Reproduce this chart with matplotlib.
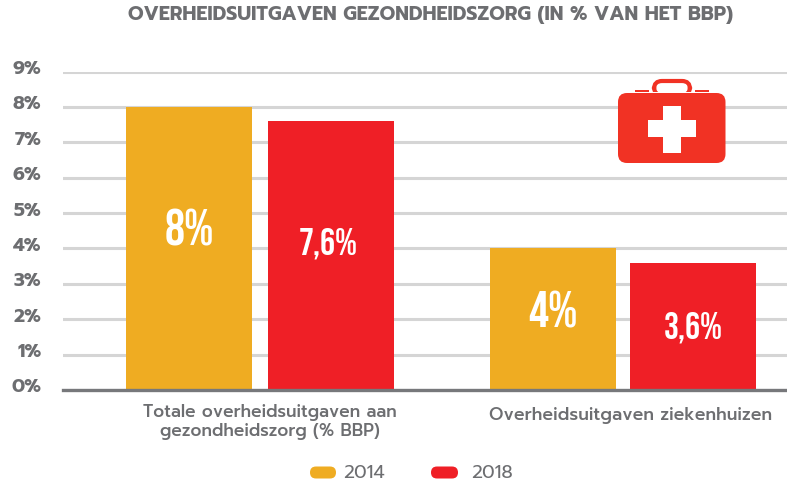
import matplotlib
matplotlib.use("Agg")
import matplotlib.pyplot as plt
from matplotlib.patches import FancyBboxPatch, Rectangle
from matplotlib.transforms import ScaledTranslation
import logging
logging.getLogger("matplotlib.font_manager").setLevel(logging.ERROR)

title = "OVERHEIDSUITGAVEN GEZONDHEIDSZORG (IN % VAN HET BBP)"
categories = ["Totale overheidsuitgaven aan\ngezondheidszorg (% BBP)", "Overheidsuitgaven ziekenhuizen"]
years = ["2014", "2018"]
values_2014 = [8.0, 4.0]
values_2018 = [7.6, 3.6]
labels_2014 = ["8%", "4%"]
labels_2018 = ["7,6%", "3,6%"]
yticks = [0, 1, 2, 3, 4, 5, 6, 7, 8, 9]

W, H = 787, 482
GOLD, RED, ICON = "#EFAC22", "#EF1F26", "#F13224"
GREY, GRID, AXIS = "#6D6E71", "#D5D5D5", "#77787B"
SANS = ["Prompt", "Poppins", "Inter", "Open Sans", "DejaVu Sans"]
NARROW = ["Bebas Neue", "Oswald", "Roboto", "DejaVu Sans"]

fig = plt.figure(figsize=(W / 100, H / 100), dpi=100, facecolor="white")
ax = fig.add_axes([63 / W, 1 - 390 / H, (W - 63) / W, (390 - 71.5) / H])
ax.set_xlim(63, W)
ax.set_ylim(0, 9)
for s in ax.spines.values():
    s.set_visible(False)
ax.yaxis.grid(True, color=GRID, lw=2.2)
ax.set_axisbelow(True)
ax.axhline(0, color=AXIS, lw=2.4, clip_on=False, zorder=4)
ax.tick_params(length=0, pad=15.5)
ax.set_yticks(yticks)
ax.set_yticklabels([f"{t}%" for t in yticks], family=SANS, fontsize=13.5,
                   fontweight="bold", color=GREY)
shift = ScaledTranslation(0, 4 / 100, fig.dpi_scale_trans)
for lab in ax.get_yticklabels():
    lab.set_transform(lab.get_transform() + shift)
ax.set_xticks([])

x_2014 = [189, 553]
x_2018 = [331, 693]
sizes1 = [36, 36]
sizes2 = [27, 27]
y1_pos = [4.58, 2.28]
y2_pos = [4.15, 1.78]
label_dx = [-2.5, 0.5]
for i in range(2):
    ax.bar(x_2014[i], values_2014[i], width=126, color=GOLD, zorder=3)
    ax.bar(x_2018[i], values_2018[i], width=126, color=RED, zorder=3)
    ax.text(x_2014[i], y1_pos[i], labels_2014[i], color="white", ha="center", va="center",
            family=NARROW, fontsize=sizes1[i], zorder=5)
    ax.text(x_2018[i] + label_dx[i], y2_pos[i], labels_2018[i], color="white", ha="center", va="center",
            family=NARROW, fontsize=sizes2[i], zorder=5)


def px(x, y):
    return x / W, 1 - y / H


fig.text(*px(431, 14), title, ha="center", va="center", family=SANS, fontsize=14,
         fontweight="bold", color=GREY)
fig.text(*px(270, 422), categories[0], ha="center", va="center", family=SANS, fontsize=12.4,
         fontweight="medium", color=GREY, linespacing=1.22)
fig.text(*px(631, 415), categories[1], ha="center", va="center", family=SANS, fontsize=12.6,
         fontweight="medium", color=GREY)

overlay = fig.add_axes([0, 0, 1, 1], facecolor="none")
overlay.set_xlim(0, W)
overlay.set_ylim(H, 0)
overlay.axis("off")


def rrect(x0, y0, x1, y1, r, color):
    overlay.add_patch(FancyBboxPatch((x0 + r, y0 + r), x1 - x0 - 2 * r, y1 - y0 - 2 * r,
                                     boxstyle=f"round,pad={r},rounding_size={r}",
                                     fc=color, ec="none"))


# legend
rrect(310, 466.5, 336, 478.5, 6, GOLD)
rrect(431, 466.5, 458, 478.5, 6, RED)
overlay.text(343, 473, years[0], ha="left", va="center", family=SANS, fontsize=13.5, color=GREY)
overlay.text(471, 473, years[1], ha="left", va="center", family=SANS, fontsize=13.5, color=GREY)

# first-aid kit icon
rrect(618, 93, 725.5, 163, 9, ICON)
overlay.add_patch(Rectangle((648, 120), 48, 17, fc="white", ec="none"))
overlay.add_patch(Rectangle((663, 106), 18, 47, fc="white", ec="none"))
overlay.add_patch(Rectangle((635, 90), 14, 2, fc=ICON, ec="none"))
overlay.add_patch(Rectangle((695, 90), 14, 2, fc=ICON, ec="none"))
overlay.add_patch(FancyBboxPatch((654, 81), 36, 14, boxstyle="round,pad=0,rounding_size=8",
                                 fc="none", ec=ICON, lw=3))
overlay.add_patch(Rectangle((650, 92), 44, 1, fc="white", ec="none"))

fig.savefig("out.png", dpi=100)
